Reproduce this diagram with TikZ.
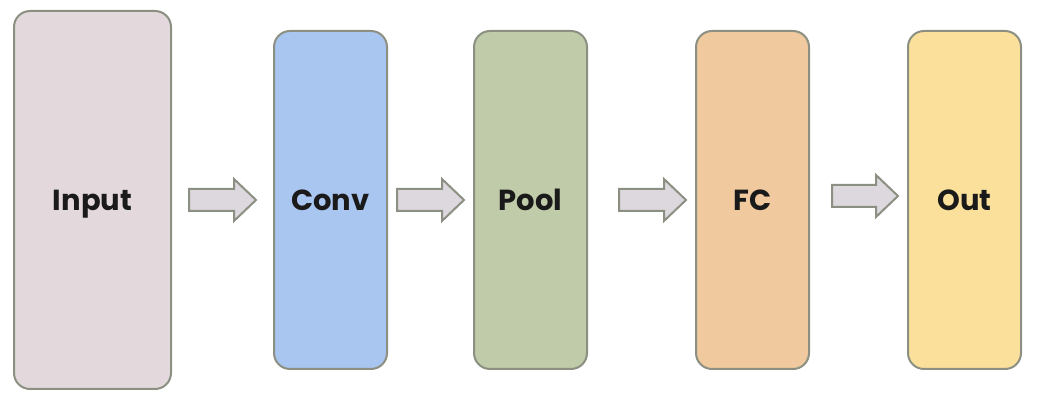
\documentclass[tikz,border=0pt]{standalone}
\usepackage{fontspec}
\setmainfont{Poppins}
\definecolor{inputfill}{HTML}{E3D9DC}
\definecolor{convfill}{HTML}{A9C6F0}
\definecolor{poolfill}{HTML}{BFCBA9}
\definecolor{fcfill}{HTML}{F0CA9E}
\definecolor{outfill}{HTML}{FBE09B}
\definecolor{edge}{HTML}{8C9082}
\definecolor{arrfill}{HTML}{DDD7DE}
\definecolor{txt}{HTML}{1A1A1A}
\tikzset{
  box/.style={draw=edge, line width=2pt, rounded corners=16pt, inner sep=0pt,
    text height=20.2pt, text depth=0pt,
    font=\fontsize{29}{34}\selectfont\bfseries, text=txt},
  arr/.style={draw=edge, fill=arrfill, line width=2pt, line join=miter}
}
\newcommand\blockarrow[3]{% x start, x end, y centre
  \draw[arr] (#1,#3-11) -- (#1,#3+11) -- (#2-22,#3+11) -- (#2-22,#3+21)
    -- (#2,#3) -- (#2-22,#3-21) -- (#2-22,#3-11) -- cycle;}
\begin{document}
\begin{tikzpicture}[x=1pt,y=1pt]
\useasboundingbox (0,0) rectangle (1039,401);
\node[box, fill=inputfill, minimum width=157pt, minimum height=378pt] (input) at (92.5,201) {Input};
\node[box, fill=convfill, minimum width=113pt, minimum height=338pt] (conv) at (330.5,201) {Conv};
\node[box, fill=poolfill, minimum width=113pt, minimum height=338pt] (pool) at (530.5,201) {Pool};
\node[box, fill=fcfill, minimum width=113pt, minimum height=338pt] (fc) at (752.5,201) {FC};
\node[box, fill=outfill, minimum width=113pt, minimum height=338pt] (out) at (964.5,201) {Out};
\blockarrow{189}{256}{201}
\blockarrow{397}{464}{201}
\blockarrow{619}{686}{201}
\blockarrow{832}{898}{205}
\end{tikzpicture}
\end{document}
